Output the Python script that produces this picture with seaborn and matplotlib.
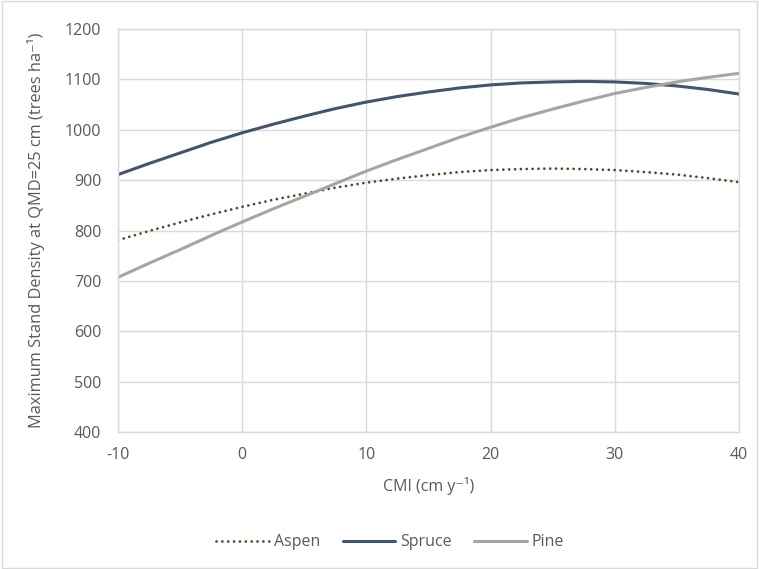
import numpy as np
import pandas as pd
import matplotlib.pyplot as plt
import seaborn as sns
from matplotlib.patches import Rectangle

# data (CMI in cm/yr, density in trees/ha)
cmi = [-10, -7.5, -5, -2.5, 0, 2.5, 5, 7.5, 10, 12.5, 15, 17.5, 20,
       22.5, 25, 27.5, 30, 32.5, 35, 37.5, 40]
aspen = [781, 799, 816, 832, 847, 861, 873, 885, 895, 903, 910, 916, 920,
         922, 923, 922, 920, 916, 911, 904, 896]
spruce = [911, 933, 954, 975, 994, 1011, 1027, 1042, 1055, 1066, 1075, 1083, 1089,
          1093, 1095, 1096, 1095, 1092, 1087, 1080, 1071]
pine = [707, 735, 762, 790, 817, 843, 868, 893, 918, 941, 963, 985, 1005,
        1024, 1041, 1057, 1072, 1084, 1095, 1104, 1112]
species = ["Aspen", "Spruce", "Pine"]
y_ticks = [400, 500, 600, 700, 800, 900, 1000, 1100, 1200]
x_ticks = [-10, 0, 10, 20, 30, 40]

data = pd.DataFrame({"CMI": cmi, "Aspen": aspen, "Spruce": spruce, "Pine": pine})
long = data.melt(id_vars="CMI", var_name="Species", value_name="Density")

sns.set_style("white")
plt.rcParams["font.family"] = ["Open Sans", "DejaVu Sans"]
plt.rcParams["axes.unicode_minus"] = False

grid_col = "#D9D9D9"
text_col = "#595959"
fs = 11.5

fig = plt.figure(figsize=(7.59, 5.69), dpi=100)
ax = fig.add_axes([0.1555, 0.2408, 0.818, 0.7082])

palette = {"Aspen": "#375623", "Spruce": "#44546A", "Pine": "#A5A5A5"}
dashes = {"Aspen": (0.01, 2.1), "Spruce": "", "Pine": ""}
widths = {"Aspen": 2.0, "Spruce": 2.2, "Pine": 2.2}
sns.lineplot(data=long, x="CMI", y="Density", hue="Species", hue_order=species,
             style="Species", dashes=dashes, palette=palette, linewidth=2.2,
             ax=ax, legend=False)
for ln, s in zip(ax.lines, species):
    ln.set_linewidth(widths[s])
    ln.set_dash_capstyle("round")
    ln.set_solid_capstyle("round")

ax.set_xlim(-10, 40)
ax.set_ylim(400, 1200)
ax.set_xticks(x_ticks)
ax.set_yticks(y_ticks)
ax.grid(True, color=grid_col, linewidth=1)
ax.set_axisbelow(True)
for s in ax.spines.values():
    s.set_color(grid_col)
    s.set_linewidth(1)
ax.tick_params(length=0, labelsize=fs, labelcolor=text_col)
ax.tick_params(axis="x", pad=11)
ax.tick_params(axis="y", pad=12)

ax.set_xlabel("CMI (cm y⁻¹)", fontsize=fs, color=text_col, labelpad=10)
ax.set_ylabel("Maximum Stand Density at QMD=25 cm (trees ha⁻¹)",
              fontsize=fs + 0.3, color=text_col, labelpad=14)

# legend below the plot
handles = [plt.Line2D([], [], color=palette[s], lw=widths[s],
                      linestyle=(0, dashes[s]) if dashes[s] else "-",
                      dash_capstyle="round") for s in species]
fig.legend(handles, species, loc="center", bbox_to_anchor=(0.514, 0.047), ncol=3,
           frameon=False, fontsize=fs, labelcolor=text_col, handlelength=3.3,
           columnspacing=1.4, handletextpad=0.3)

# outer chart border
fig.patches.append(Rectangle((0.002, 0.002), 0.996, 0.996, transform=fig.transFigure,
                             fill=False, edgecolor=grid_col, linewidth=1))

fig.savefig("out.png", dpi=100)
